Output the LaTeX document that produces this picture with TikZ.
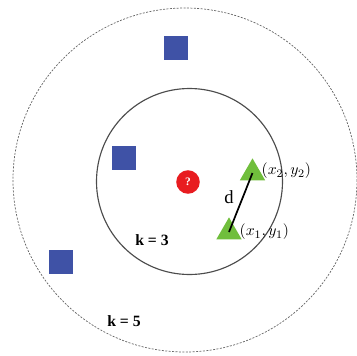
\documentclass[tikz,border=0pt]{standalone}
\usepackage{fontspec}
\setmainfont{Liberation Serif}
\usepackage{tikz}
\usetikzlibrary{positioning,shapes.geometric}
\definecolor{sqblue}{RGB}{63,82,166}
\definecolor{trigreen}{RGB}{112,190,60}
\definecolor{qred}{RGB}{232,28,32}

\begin{document}
\begin{tikzpicture}[
  x=0.7pt, y=-0.7pt,
  font=\fontsize{11}{13}\selectfont,
  sq/.style={rectangle, fill=sqblue, minimum size=16.8pt, inner sep=0pt},
  tri/.style={regular polygon, regular polygon sides=3, fill=trigreen, minimum size=20.5pt, inner sep=0pt},
  query/.style={circle, fill=qred, text=white, minimum size=16.5pt, inner sep=0pt, font=\bfseries\footnotesize},
  ring/.style={draw=black!70, line width=0.8pt},
  outring/.style={draw=black!60, line width=0.5pt, dash pattern=on 1.4pt off 1pt},
  lbl/.style={inner sep=1pt},
]
  \useasboundingbox (0,0) rectangle (357,356);
  % neighbourhood circles
  \coordinate (c5) at (185,180);
  \coordinate (c3) at (189.5,181.5);
  \draw[outring] (c5) circle[radius=172];
  \draw[ring] (c3) circle[radius=93];
  % class A
  \node[sq] (s1) at (176,48) {};
  \node[sq] (s2) at (124,158) {};
  \node[sq] (s3) at (61,262) {};
  % query point
  \node[query] (q) at (188,182) {?};
  % class B
  \node[tri] (t2) at (252.5,173) {};
  \node[tri] (t1) at (229,232) {};
  \draw[line width=1.2pt] (t2.center) -- (t1.center);
  \node[lbl, font=\fontsize{13}{15}\selectfont] (d) at (229,197) {d};
  \node[lbl, anchor=west] (p2) at (260,171) {$(x_2,y_2)$};
  \node[lbl, anchor=west] (p1) at (238,232) {$(x_1,y_1)$};
  % labels
  \node[lbl, font=\bfseries\fontsize{11}{13}\selectfont] (k3) at (152,240) {k = 3};
  \node[lbl, font=\bfseries\fontsize{11}{13}\selectfont] (k5) at (124,321) {k = 5};
\end{tikzpicture}
\end{document}
